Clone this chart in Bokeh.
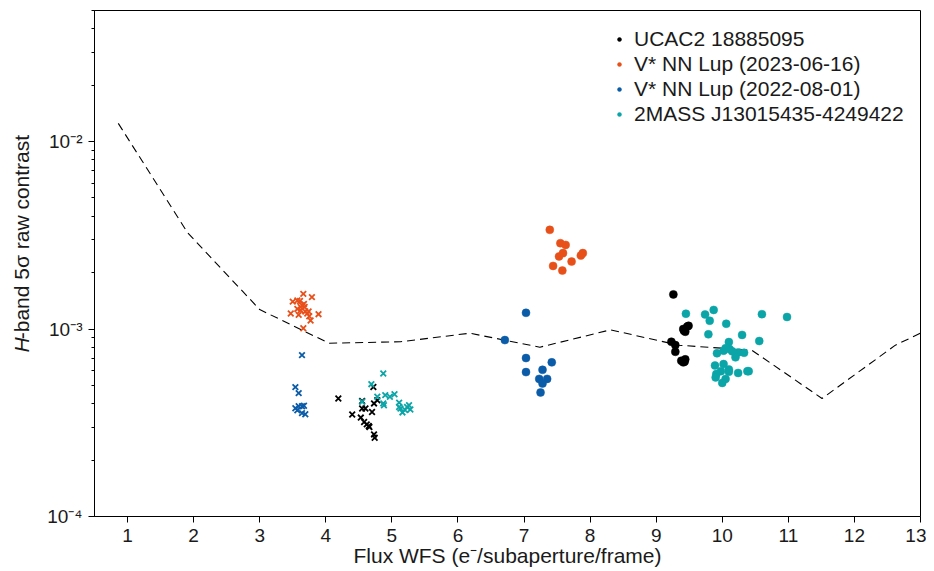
import math
from bokeh.plotting import figure
from bokeh.layouts import row
from bokeh.models import FixedTicker, Legend, LegendItem, Range1d
from bokeh.core.properties import value
from bokeh.embed import file_html
from bokeh.resources import INLINE

# ---------------- data ----------------
# dashed reference curve
curve_x = [0.86, 1.91, 3.0, 4.05, 5.13, 6.18, 7.24, 8.31, 9.34, 10.45, 11.51, 12.62, 13.0]
curve_y = [1.25e-2, 3.26e-3, 1.27e-3, 8.4e-4, 8.55e-4, 9.5e-4, 8.0e-4, 9.9e-4, 8.2e-4, 7.7e-4, 4.26e-4, 8.2e-4, 9.5e-4]

# crosses (x markers)
ucac_x_x = [4.19, 4.72, 4.55, 4.73, 4.78, 4.55, 4.60, 4.70, 4.40, 4.53, 4.58, 4.62, 4.65, 4.73, 4.74, 4.66]
ucac_x_y = [4.26e-4, 4.91e-4, 4.13e-4, 4.01e-4, 4.17e-4, 3.77e-4, 3.77e-4, 3.61e-4, 3.50e-4, 3.37e-4, 3.19e-4, 3.10e-4, 3.04e-4, 2.74e-4, 2.63e-4, 3.0e-4]

nn23_x_x = [3.66, 3.79, 3.50, 3.61, 3.64, 3.57, 3.68, 3.62, 3.47, 3.59, 3.72, 3.75, 3.89, 3.77, 3.66, 3.69, 3.67, 3.74, 3.62, 3.57]
nn23_x_y = [1.54e-3, 1.48e-3, 1.40e-3, 1.41e-3, 1.34e-3, 1.28e-3, 1.31e-3, 1.26e-3, 1.21e-3, 1.19e-3, 1.21e-3, 1.17e-3, 1.20e-3, 1.11e-3, 1.01e-3, 1.24e-3, 1.36e-3, 1.24e-3, 1.31e-3, 1.42e-3]

nn22_x_x = [3.64, 3.54, 3.59, 3.54, 3.59, 3.64, 3.67, 3.57, 3.64, 3.69]
nn22_x_y = [7.26e-4, 4.90e-4, 4.55e-4, 3.78e-4, 3.87e-4, 3.87e-4, 3.90e-4, 3.69e-4, 3.56e-4, 3.51e-4]

mass_x_x = [4.87, 4.69, 4.78, 4.55, 4.90, 4.97, 5.04, 4.88, 4.87, 5.11, 5.11, 5.16, 5.23, 5.28, 5.26, 5.13, 5.20]
mass_x_y = [5.79e-4, 5.08e-4, 4.35e-4, 4.09e-4, 4.44e-4, 4.35e-4, 4.49e-4, 3.92e-4, 4.01e-4, 4.05e-4, 3.84e-4, 3.59e-4, 3.84e-4, 3.72e-4, 3.92e-4, 3.77e-4, 3.70e-4]

# dots
ucac_o_x = [9.26, 9.41, 9.47, 9.49, 9.44, 9.42, 9.23, 9.29, 9.29, 9.38, 9.44, 9.41, 9.43]
ucac_o_y = [1.53e-3, 1.0e-3, 1.03e-3, 1.04e-3, 9.67e-4, 9.8e-4, 8.55e-4, 8.21e-4, 7.56e-4, 6.77e-4, 6.89e-4, 6.64e-4, 6.70e-4]

nn23_o_x = [7.39, 7.55, 7.63, 7.53, 7.59, 7.44, 7.58, 7.72, 7.86, 7.89]
nn23_o_y = [3.38e-3, 2.87e-3, 2.81e-3, 2.44e-3, 2.54e-3, 2.17e-3, 2.05e-3, 2.29e-3, 2.47e-3, 2.54e-3]

nn22_o_x = [7.03, 6.71, 7.03, 7.03, 7.28, 7.42, 7.23, 7.35, 7.28, 7.25]
nn22_o_y = [1.22e-3, 8.73e-4, 7.00e-4, 5.89e-4, 6.06e-4, 6.64e-4, 5.42e-4, 5.42e-4, 5.12e-4, 4.59e-4]

mass_o_x = [9.45, 9.74, 9.87, 9.81, 10.06, 9.79, 10.30, 10.60, 10.98, 10.56, 10.10, 9.92, 10.02, 10.11, 10.24, 10.33,
            10.20, 9.89, 10.02, 9.98, 10.10, 10.10, 9.91, 9.90, 10.05, 10.00, 10.24, 10.38, 10.40, 10.05, 10.15]
mass_o_y = [1.207e-3, 1.196e-3, 1.264e-3, 1.107e-3, 1.067e-3, 9.37e-4, 9.30e-4, 1.20e-3, 1.159e-3, 8.63e-4, 8.52e-4, 7.42e-4, 7.66e-4, 7.82e-4, 7.50e-4, 7.47e-4,
            7.06e-4, 6.39e-4, 6.50e-4, 5.96e-4, 6.09e-4, 5.91e-4, 5.75e-4, 5.52e-4, 5.42e-4, 5.16e-4, 5.83e-4, 5.96e-4, 5.96e-4, 7.9e-4, 7.6e-4]

labels = ["UCAC2 18885095", "V* NN Lup (2023-06-16)", "V* NN Lup (2022-08-01)", "2MASS J13015435-4249422"]
colors = ["#000000", "#E8501A", "#0A5CA8", "#0BA5A8"]

x_ticks = list(range(1, 14))
y_ticks = [1e-4, 1e-3, 1e-2]
y_tick_labels = {1e-4: "10\u207b\u2074", 1e-3: "10\u207b\u00b3", 1e-2: "10\u207b\u00b2"}

x_label = "Flux WFS (e\u207b/subaperture/frame)"
y_label_parts = ["H", "-band 5\u03c3 raw contrast"]

FONT = "Liberation Sans"
FS = "19px"
LFS = "21px"
TXT = "#1a1a1a"

# layout sizes
YW = 40          # width of the y-label strip
PW = 886         # main figure width
PH = 571         # figure height

p = figure(width=PW, height=PH, x_range=(0.5, 13.0), y_range=(1e-4, 0.05),
           y_axis_type="log", output_backend="svg", toolbar_location=None, title=None,
           min_border_left=54, min_border_right=6, min_border_top=10, min_border_bottom=55)
p.xgrid.visible = False
p.ygrid.visible = False
p.outline_line_color = "black"
p.outline_line_width = 1

p.xaxis.ticker = FixedTicker(ticks=x_ticks)
minor = []
for d in (1e-4, 1e-3, 1e-2):
    for k in range(2, 10):
        if d * k <= 0.05:
            minor.append(d * k)
p.yaxis.ticker = FixedTicker(ticks=y_ticks, minor_ticks=minor)
p.yaxis.major_label_overrides = y_tick_labels

for ax in (p.xaxis[0], p.yaxis[0]):
    ax.axis_line_color = "black"
    ax.major_tick_line_color = "black"
    ax.minor_tick_line_color = "black"
    ax.major_tick_in = 0
    ax.major_tick_out = 6
    ax.minor_tick_in = 0
    ax.minor_tick_out = 3
    ax.major_label_text_font = FONT
    ax.major_label_text_font_size = FS
    ax.major_label_text_color = TXT
    ax.major_label_standoff = 6
p.xaxis.minor_tick_line_color = None

p.xaxis.axis_label = x_label
p.xaxis.axis_label_text_font = FONT
p.xaxis.axis_label_text_font_size = LFS
p.xaxis.axis_label_text_font_style = "normal"
p.xaxis.axis_label_text_color = TXT
p.xaxis.axis_label_standoff = -1

# dashed curve
p.line(curve_x, curve_y, line_color="black", line_width=1.1, line_dash="8 5")

cross_sets = [(ucac_x_x, ucac_x_y), (nn23_x_x, nn23_x_y), (nn22_x_x, nn22_x_y), (mass_x_x, mass_x_y)]
dot_sets = [(ucac_o_x, ucac_o_y), (nn23_o_x, nn23_o_y), (nn22_o_x, nn22_o_y), (mass_o_x, mass_o_y)]

dot_renderers = []
for (cx, cy), (dx, dy), col in zip(cross_sets, dot_sets, colors):
    p.scatter(x=cx, y=cy, marker="x", size=8, line_color=col, line_width=1.8)
    r = p.scatter(x=dx, y=dy, marker="circle", size=8, fill_color=col, line_color=col, line_width=0.5)
    dot_renderers.append(r)

legend = Legend(items=[LegendItem(label=l, renderers=[r]) for l, r in zip(labels, dot_renderers)],
                location=(519, 390), border_line_color=None, background_fill_alpha=0,
                label_text_font=FONT, label_text_font_size="21px", label_text_color=TXT,
                glyph_width=12, glyph_height=10, label_height=25, spacing=0,
                label_standoff=9, padding=0, margin=0)
p.add_layout(legend)

# ---- y-label strip (left) ----
yfig = figure(width=YW, height=PH, x_range=Range1d(0, YW), y_range=Range1d(0, PH), title=None,
              output_backend="svg", toolbar_location=None, x_axis_location=None, y_axis_location=None,
              min_border=0, outline_line_color=None)
yfig.xgrid.visible = False
yfig.ygrid.visible = False
yc = PH - 274
ystart = yc - 112
yfig.text(x=[21], y=[ystart], text=[y_label_parts[0]], angle=math.pi / 2, text_align="left",
          text_baseline="middle", text_font=value(FONT), text_font_size=value(LFS),
          text_font_style=value("italic"), text_color=TXT)
yfig.text(x=[21], y=[ystart + 15], text=[y_label_parts[1]], angle=math.pi / 2, text_align="left",
          text_baseline="middle", text_font=value(FONT), text_font_size=value(LFS), text_color=TXT)

layout = row(yfig, p, spacing=0)
open("out.html", "w").write(file_html(layout, INLINE))
